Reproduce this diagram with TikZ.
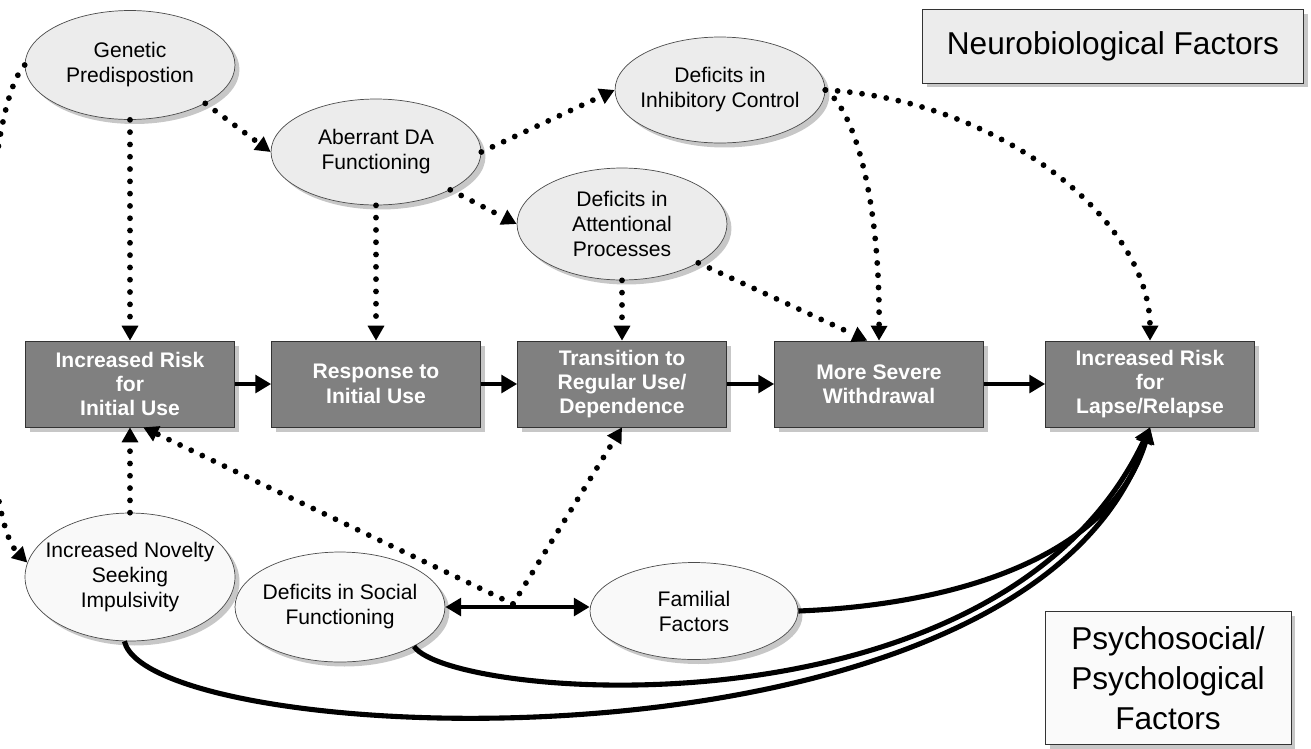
\documentclass[tikz,border=0pt]{standalone}
\usepackage{fontspec}
\setmainfont{Liberation Sans}
\usetikzlibrary{shapes.geometric,arrows.meta,shadows}

\tikzset{
  shade/.style={drop shadow={shadow xshift=0.9mm, shadow yshift=-0.9mm, fill=black!22, opacity=1}},
  neuro/.style={ellipse, draw=black!70, fill=gray!15, minimum width=4.2cm, minimum height=2.12cm,
    inner xsep=-8pt, inner ysep=0pt, align=center, font=\fontsize{12}{14.2}\selectfont, shade},
  psych/.style={neuro, fill=gray!5},
  stagebox/.style={rectangle, draw=black!80, fill=gray, text=white, minimum width=4.18cm,
    minimum height=1.72cm, inner sep=0pt, align=center, font=\bfseries\fontsize{12}{13.9}\selectfont, shade},
  factorbox/.style={rectangle, draw=black!80, fill=gray!15, align=center, inner sep=0pt,
    font=\fontsize{18}{22.8}\selectfont, shade},
  dotline/.style={line width=3.3pt, dash pattern=on 0pt off 7pt, line cap=round,
    -{Triangle[length=8.5pt,width=9pt]}},
  heavy/.style={line width=2.4pt, -{Triangle[length=9pt,width=10pt]}},
}

\begin{document}
\begin{tikzpicture}[x=0.02cm, y=-0.02cm]
\useasboundingbox (0,0) rectangle (1311,748);

% factor labels
\node[factorbox, minimum width=7.62cm, minimum height=1.48cm] (neurolab) at (1113,46) {Neurobiological Factors};
\node[factorbox, fill=gray!4, minimum width=4.92cm, minimum height=2.66cm] (psychlab) at (1168,678) {Psychosocial/\\Psychological\\Factors};

% neurobiological factors
\node[neuro, minimum height=2.18cm] (genetic) at (130,65) {Genetic\\Predispostion};
\node[neuro] (aberrant) at (376,152) {Aberrant DA\\Functioning};
\node[neuro] (inhib) at (720,90) {Deficits in\\Inhibitory Control};
\node[neuro, minimum height=2.24cm] (attent) at (622,224) {Deficits in\\Attentional\\Processes};

% stages
\node[stagebox] (init) at (130,384) {Increased Risk\\for\\Initial Use};
\node[stagebox] (resp) at (376,384) {Response to\\Initial Use};
\node[stagebox] (trans) at (622,384) {Transition to\\Regular Use/\\Dependence};
\node[stagebox] (withdr) at (879,384) {More Severe\\Withdrawal};
\node[stagebox] (lapse) at (1150,384) {Increased Risk\\for\\Lapse/Relapse};

% psychosocial factors
\node[psych, minimum height=2.56cm] (novelty) at (130,577) {Increased Novelty\\Seeking\\Impulsivity};
\node[psych, minimum height=2.2cm] (social) at (340,607) {Deficits in Social\\Functioning};
\node[psych, minimum width=4.16cm, minimum height=1.94cm] (familial) at (694,611) {Familial\\Factors};

\coordinate (mid) at (513,604);

% stage sequence
\draw[heavy] (init) -- (resp);
\draw[heavy] (resp) -- (trans);
\draw[heavy] (trans) -- (withdr);
\draw[heavy] (withdr) -- (lapse);

% neurobiological paths
\draw[dotline] (genetic.west) .. controls (-25,120) and (-25,510) .. (novelty.172);
\draw[dotline] (genetic.south) -- (init.north);
\draw[dotline] (genetic.-27) -- (aberrant.west);
\draw[dotline] (aberrant.east) -- (inhib.west);
\draw[dotline] (aberrant.-27) -- (attent.west);
\draw[dotline] (aberrant.south) -- (resp.north);
\draw[dotline] (attent.south) -- (trans.north);
\draw[dotline] (attent.-27) -- (withdr.105);
\draw[dotline] (inhib.east) .. controls (855,110) and (880,200) .. (withdr.north);
\draw[dotline] (inhib.east) .. controls (1000,100) and (1150,220) .. (lapse.north);

% psychosocial paths
\draw[dotline] (novelty.north) -- (init.south);
\draw[dotline] (mid) -- (init.-73);
\draw[dotline] (mid) -- (trans.south);
\draw[line width=2.4pt, {Triangle[length=9pt,width=10pt]}-{Triangle[length=9pt,width=10pt]}] (social.east) -- (social.east -| familial.west);
\draw[heavy, line width=2.9pt] (familial.east) .. controls (950,605) and (1110,560) .. (lapse.south);
\draw[heavy, line width=2.9pt] (social.-28) .. controls (450,700) and (1000,745) .. (lapse.south);
\draw[heavy, line width=2.9pt] (novelty.-95) .. controls (150,750) and (1030,790) .. (lapse.south);
\end{tikzpicture}
\end{document}
